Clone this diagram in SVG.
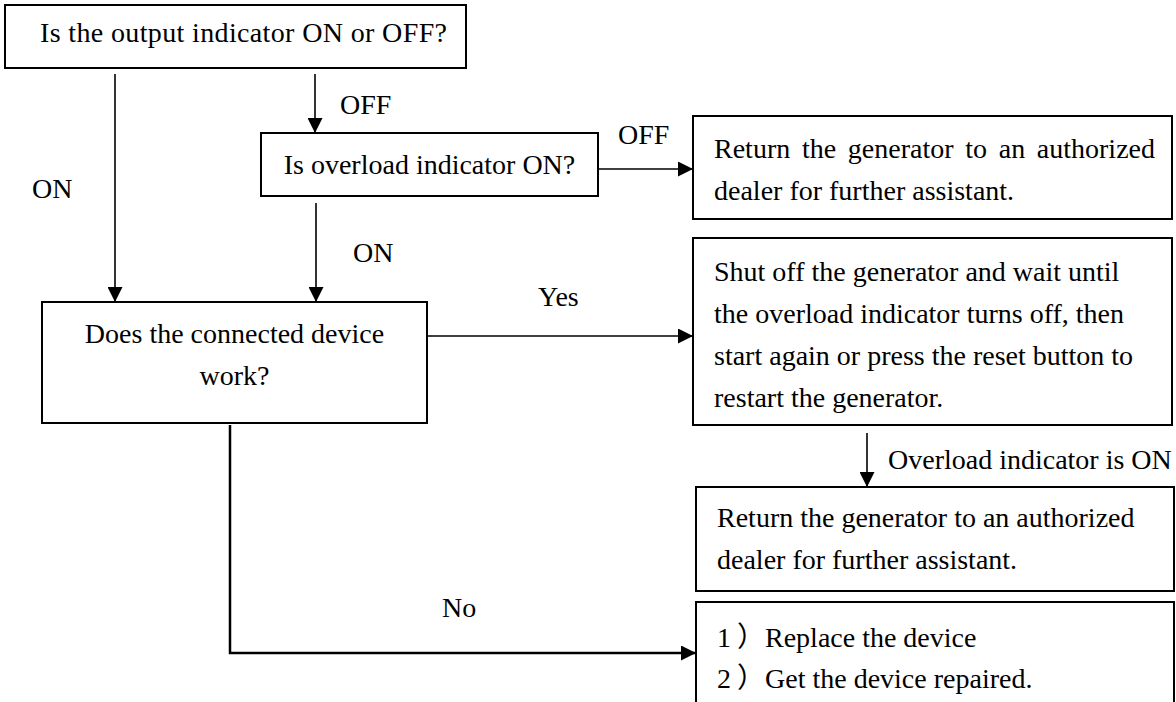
<svg xmlns="http://www.w3.org/2000/svg" width="1176" height="702" viewBox="0 0 1176 702">
<defs>
<marker id="ah" markerUnits="userSpaceOnUse" markerWidth="16" markerHeight="15" refX="15" refY="7.5" orient="auto"><path d="M0,0 L15,7.5 L0,15 z" fill="#000"/></marker>
<style>
.box{fill:#fff;stroke:#000;stroke-width:2}
.t{font-family:"Liberation Serif","Times New Roman","Noto Sans CJK SC",serif;font-size:28px;fill:#000}
.m{text-anchor:middle}
.c{stroke:#000;stroke-width:1.6;fill:none}
</style>
</defs>
<rect width="1176" height="702" fill="#fff"/>
<g id="connectors">
<line class="c" x1="115" y1="74" x2="115" y2="302" marker-end="url(#ah)"/>
<line class="c" x1="315" y1="74" x2="315" y2="133" marker-end="url(#ah)"/>
<line class="c" x1="598" y1="169" x2="693" y2="169" marker-end="url(#ah)"/>
<line class="c" x1="316" y1="203" x2="316" y2="302" marker-end="url(#ah)"/>
<line class="c" x1="427" y1="336" x2="693" y2="336" marker-end="url(#ah)"/>
<line class="c" x1="867" y1="433" x2="867" y2="487" marker-end="url(#ah)"/>
<polyline class="c" style="stroke-width:2.5" points="230,425 230,653 696,653" marker-end="url(#ah)"/>
</g>
<g id="labels">
<text class="t" x="32" y="198">ON</text>
<text class="t" x="340" y="114">OFF</text>
<text class="t" x="618" y="144">OFF</text>
<text class="t" x="353" y="262">ON</text>
<text class="t" x="538" y="306">Yes</text>
<text class="t" x="888" y="469">Overload indicator is ON</text>
<text class="t" x="442" y="617">No</text>
</g>
<g id="n1">
<rect class="box" x="5" y="5" width="461" height="63"/>
<text class="t" x="40" y="42" textLength="407">Is the output indicator ON or OFF?</text>
</g>
<g id="n2">
<rect class="box" x="261" y="133" width="337" height="63"/>
<text class="t m" x="429.5" y="174">Is overload indicator ON?</text>
</g>
<g id="n3">
<rect class="box" x="42" y="302" width="385" height="121"/>
<text class="t m" x="234.5" y="343">Does the connected device</text>
<text class="t m" x="234.5" y="385">work?</text>
</g>
<g id="n4">
<rect class="box" x="693" y="116" width="479" height="103"/>
<text class="t" x="714" y="158" word-spacing="4.7">Return the generator to an authorized</text>
<text class="t" x="714" y="200">dealer for further assistant.</text>
</g>
<g id="n5">
<rect class="box" x="693" y="238" width="479" height="187"/>
<text class="t" x="714" y="281">Shut off the generator and wait until</text>
<text class="t" x="714" y="323">the overload indicator turns off, then</text>
<text class="t" x="714" y="365">start again or press the reset button to</text>
<text class="t" x="714" y="407">restart the generator.</text>
</g>
<g id="n6">
<rect class="box" x="696" y="487" width="478" height="104"/>
<text class="t" x="717" y="527">Return the generator to an authorized</text>
<text class="t" x="717" y="569">dealer for further assistant.</text>
</g>
<g id="n7">
<rect class="box" x="696" y="602" width="478" height="130"/>
<text class="t" x="717" y="647">1<tspan x="737">）</tspan><tspan x="765">Replace the device</tspan></text>
<text class="t" x="717" y="688">2<tspan x="737">）</tspan><tspan x="765">Get the device repaired.</tspan></text>
</g>
</svg>
